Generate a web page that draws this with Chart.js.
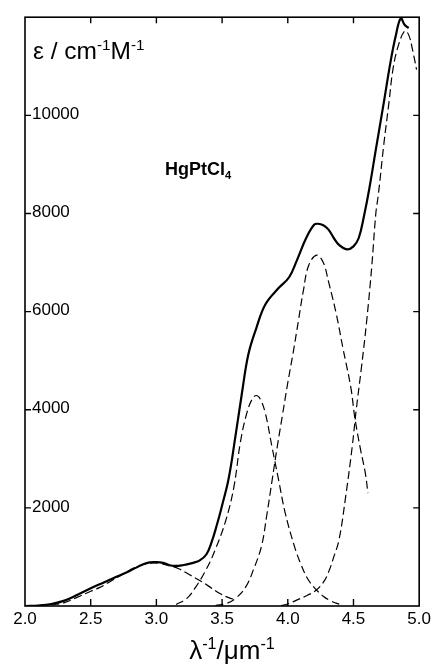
<!DOCTYPE html>
<html><head><meta charset="utf-8">
<script src="https://cdn.jsdelivr.net/npm/chart.js@4"></script>
<style>html,body{margin:0;padding:0;background:#fff}#wrap{width:434px;height:664px}</style>
</head><body><div id="wrap"><canvas id="c" width="434" height="664"></canvas></div>
<script>
// Measured spectrum (solid line)
const totalX = [2.00,2.10,2.20,2.30,2.40,2.50,2.60,2.70,2.80,2.90,2.95,3.00,3.05,3.12,3.20,3.28,3.33,3.38,3.42,3.46,3.50,3.55,3.60,3.65,3.70,3.76,3.83,3.93,4.01,4.07,4.14,4.20,4.23,4.27,4.31,4.35,4.39,4.45,4.50,4.54,4.58,4.62,4.67,4.73,4.78,4.82,4.86,4.89,4.92];
const totalY = [0,10,40,110,230,360,480,600,720,850,890,895,880,820,830,880,930,1050,1300,1650,2050,2600,3430,4320,5130,5660,6150,6480,6700,7050,7500,7770,7790,7760,7670,7500,7360,7270,7330,7500,7950,8500,9300,10250,11060,11600,11980,11840,11780];
// Gaussian components (dashed lines)
const bandAX = [2.20,2.30,2.40,2.50,2.57,2.65,2.75,2.85,2.95,3.02,3.10,3.17,3.25,3.33,3.40,3.48,3.55,3.60];
const bandAY = [20,70,180,300,380,500,660,800,870,870,820,760,640,520,400,260,170,130];
const bandBX = [3.15,3.23,3.30,3.38,3.45,3.53,3.59,3.64,3.69,3.73,3.76,3.79,3.83,3.88,3.93,3.98,4.05,4.10,4.15,4.20,4.27,4.33,4.40];
const bandBY = [30,150,390,750,1160,1760,2430,3350,3950,4220,4290,4220,3920,3240,2570,1900,1220,850,560,380,200,100,30];
const bandCX = [3.45,3.53,3.60,3.68,3.74,3.80,3.84,3.88,3.92,3.96,4.00,4.04,4.08,4.12,4.16,4.22,4.27,4.31,4.37,4.42,4.48,4.51,4.55,4.59,4.61];
const bandCY = [10,50,150,390,750,1220,1850,2550,3250,3900,4550,5150,5800,6450,6950,7150,7000,6610,5940,5250,4450,3840,3240,2710,2300];
const bandDX = [3.95,4.00,4.08,4.15,4.21,4.27,4.31,4.35,4.39,4.44,4.49,4.52,4.56,4.60,4.64,4.67,4.69,4.73,4.77,4.80,4.84,4.89,4.92,4.95,4.98];
const bandDY = [10,40,135,220,310,480,690,1000,1350,2220,3240,3980,4850,5800,6950,8000,8400,9390,10260,10930,11410,11720,11640,11330,10930];
// Axis ticks
const xTicks = [2.0,2.5,3.0,3.5,4.0,4.5,5.0];
const yTicks = [2000,4000,6000,8000,10000];

const pts = (xs, ys) => xs.map((x, i) => ({x, y: ys[i]}));
const FONT = "'Liberation Sans', Arial, Helvetica, sans-serif";

function dashed(xs, ys) {
  return {data: pts(xs, ys), borderColor: '#000', borderWidth: 1.2, borderDash: [8, 4],
          pointRadius: 0, tension: 0.4, fill: false};
}

function drawSup(ctx, parts, x, y, size, align) {
  const sup = size * 0.62;
  let w = 0;
  parts.forEach(p => {
    ctx.font = (p.bold ? 'bold ' : '') + ((p.s || p.sub) ? sup : size) + 'px ' + FONT;
    p.w = ctx.measureText(p.t).width; w += p.w;
  });
  let cx = align === 'center' ? x - w / 2 : x;
  ctx.textBaseline = 'alphabetic'; ctx.textAlign = 'left'; ctx.fillStyle = '#000';
  parts.forEach(p => {
    ctx.font = (p.bold ? 'bold ' : '') + ((p.s || p.sub) ? sup : size) + 'px ' + FONT;
    const dy = p.s ? -size * 0.38 : (p.sub ? size * 0.22 : 0);
    ctx.fillText(p.t, cx, y + dy);
    cx += p.w;
  });
}

const deco = {
  id: 'deco',
  afterDraw(chart) {
    const {ctx, chartArea: a, scales: {x, y}} = chart;
    ctx.save();
    ctx.strokeStyle = '#000'; ctx.lineWidth = 1.6;
    ctx.strokeRect(a.left, a.top, a.right - a.left, a.bottom - a.top);
    ctx.lineWidth = 1.4;
    ctx.beginPath();
    xTicks.forEach(v => {
      if (v <= x.min || v >= x.max) return;
      const px = x.getPixelForValue(v);
      ctx.moveTo(px, a.bottom); ctx.lineTo(px, a.bottom - 7);
      ctx.moveTo(px, a.top); ctx.lineTo(px, a.top + 6);
    });
    yTicks.forEach(v => {
      const py = y.getPixelForValue(v);
      ctx.moveTo(a.left, py); ctx.lineTo(a.left + 6, py);
      ctx.moveTo(a.right, py); ctx.lineTo(a.right - 6, py);
    });
    ctx.stroke();
    drawSup(ctx, [{t: 'ε / cm'}, {t: '-1', s: true}, {t: 'M'}, {t: '-1', s: true}], a.left + 8, a.top + 42, 24.5);
    drawSup(ctx, [{t: 'HgPtCl', bold: true}, {t: '4', bold: true, sub: true}], 165, 175, 18);
    drawSup(ctx, [{t: 'λ'}, {t: '-1', s: true}, {t: '/μm'}, {t: '-1', s: true}], 232, 659, 26, 'center');
    ctx.restore();
  }
};

new Chart(document.getElementById('c'), {
  type: 'line',
  data: {datasets: [
    {data: pts(totalX, totalY), borderColor: '#000', borderWidth: 2.2, pointRadius: 0,
     tension: 0.4, fill: false},
    dashed(bandAX, bandAY), dashed(bandBX, bandBY), dashed(bandCX, bandCY), dashed(bandDX, bandDY)
  ]},
  options: {
    responsive: false, animation: false, devicePixelRatio: 1,
    layout: {padding: {left: 25, right: 13, top: 14, bottom: 0}},
    plugins: {legend: {display: false}, tooltip: {enabled: false}},
    scales: {
      x: {type: 'linear', position: 'bottom', min: 2, max: 5,
          grid: {display: false, drawTicks: false}, border: {display: false},
          afterBuildTicks: s => { s.ticks = xTicks.map(v => ({value: v})); },
          ticks: {callback: v => Number(v).toFixed(1), color: '#000', padding: 3,
                  font: {family: FONT, size: 17}, maxRotation: 0, autoSkip: false},
          afterFit: s => { s.height = 58; }},
      y: {type: 'linear', position: 'left', min: 0, max: 12000,
          grid: {display: false, drawTicks: false}, border: {display: false},
          afterBuildTicks: s => { s.ticks = yTicks.map(v => ({value: v})); },
          ticks: {mirror: true, padding: 7, color: '#000', font: {family: FONT, size: 17},
                  labelOffset: -1, callback: v => String(v)},
          afterFit: s => { s.width = 0; }}
    }
  },
  plugins: [deco]
});
</script></body></html>
